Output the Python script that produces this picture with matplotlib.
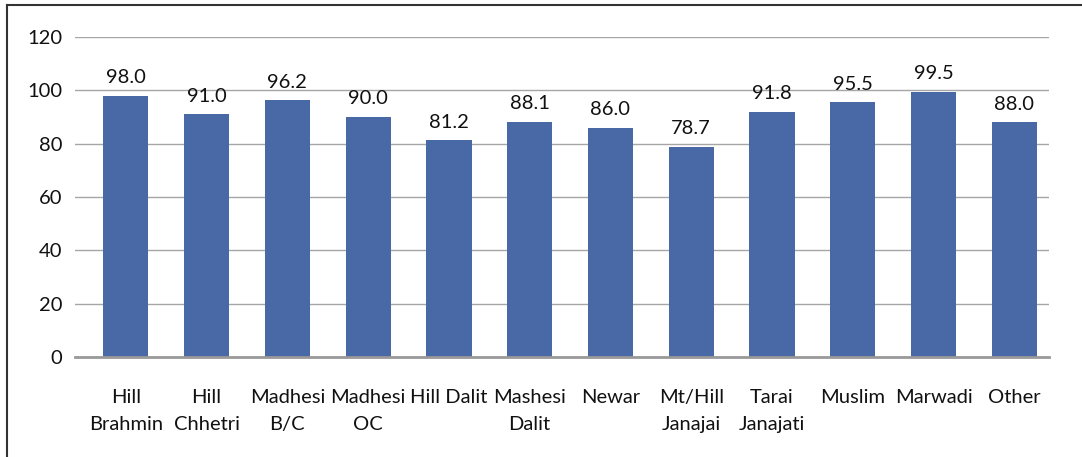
import matplotlib
matplotlib.use("Agg")
import matplotlib.pyplot as plt
from matplotlib.lines import Line2D

plt.rcParams['font.family'] = ['Lato', 'DejaVu Sans']

groups = ["Hill\nBrahmin", "Hill\nChhetri", "Madhesi\nB/C", "Madhesi\nOC", "Hill Dalit",
          "Mashesi\nDalit", "Newar", "Mt/Hill\nJanajai", "Tarai\nJanajati", "Muslim",
          "Marwadi", "Other"]
values = [98.0, 91.0, 96.2, 90.0, 81.2, 88.1, 86.0, 78.7, 91.8, 95.5, 99.5, 88.0]
yticks = [0, 20, 40, 60, 80, 100, 120]

fig = plt.figure(figsize=(10.82, 4.57), dpi=100)
ax = fig.add_axes([0.0693, 0.219, 0.9002, 0.700])

x = list(range(len(values)))
bars = ax.bar(x, values, width=0.56, color="#4869A6", zorder=3)
for xi, v in zip(x, values):
    ax.annotate(f"{v:.1f}", (xi, v), xytext=(0, 7), textcoords="offset points",
                ha="center", va="bottom", fontsize=14.5, color="#111111")

ax.set_ylim(0, 120)
ax.set_xlim(-0.63, 11.43)
ax.set_yticks(yticks)
ax.set_xticks(x)
ax.set_xticklabels(groups, fontsize=14.5, linespacing=1.7, color="#111111")
ax.tick_params(axis="y", length=0, pad=9, labelsize=14.5, labelcolor="#111111")
ax.tick_params(axis="x", length=0, pad=23)
ax.grid(axis="y", color="#A6A6A6", linewidth=1, zorder=0)
for s in ["top", "right", "left"]:
    ax.spines[s].set_visible(False)
ax.spines["bottom"].set_color("#999999")
ax.spines["bottom"].set_linewidth(2)
ax.spines["bottom"].set_zorder(4)

# outer frame (left and top edges only)
fig.add_artist(Line2D([0.0065, 0.0065], [0.0, 0.989], color="#333333", linewidth=1.5))
fig.add_artist(Line2D([0.0065, 1.0], [0.989, 0.989], color="#333333", linewidth=1.5))

fig.savefig("out.png", dpi=100)
